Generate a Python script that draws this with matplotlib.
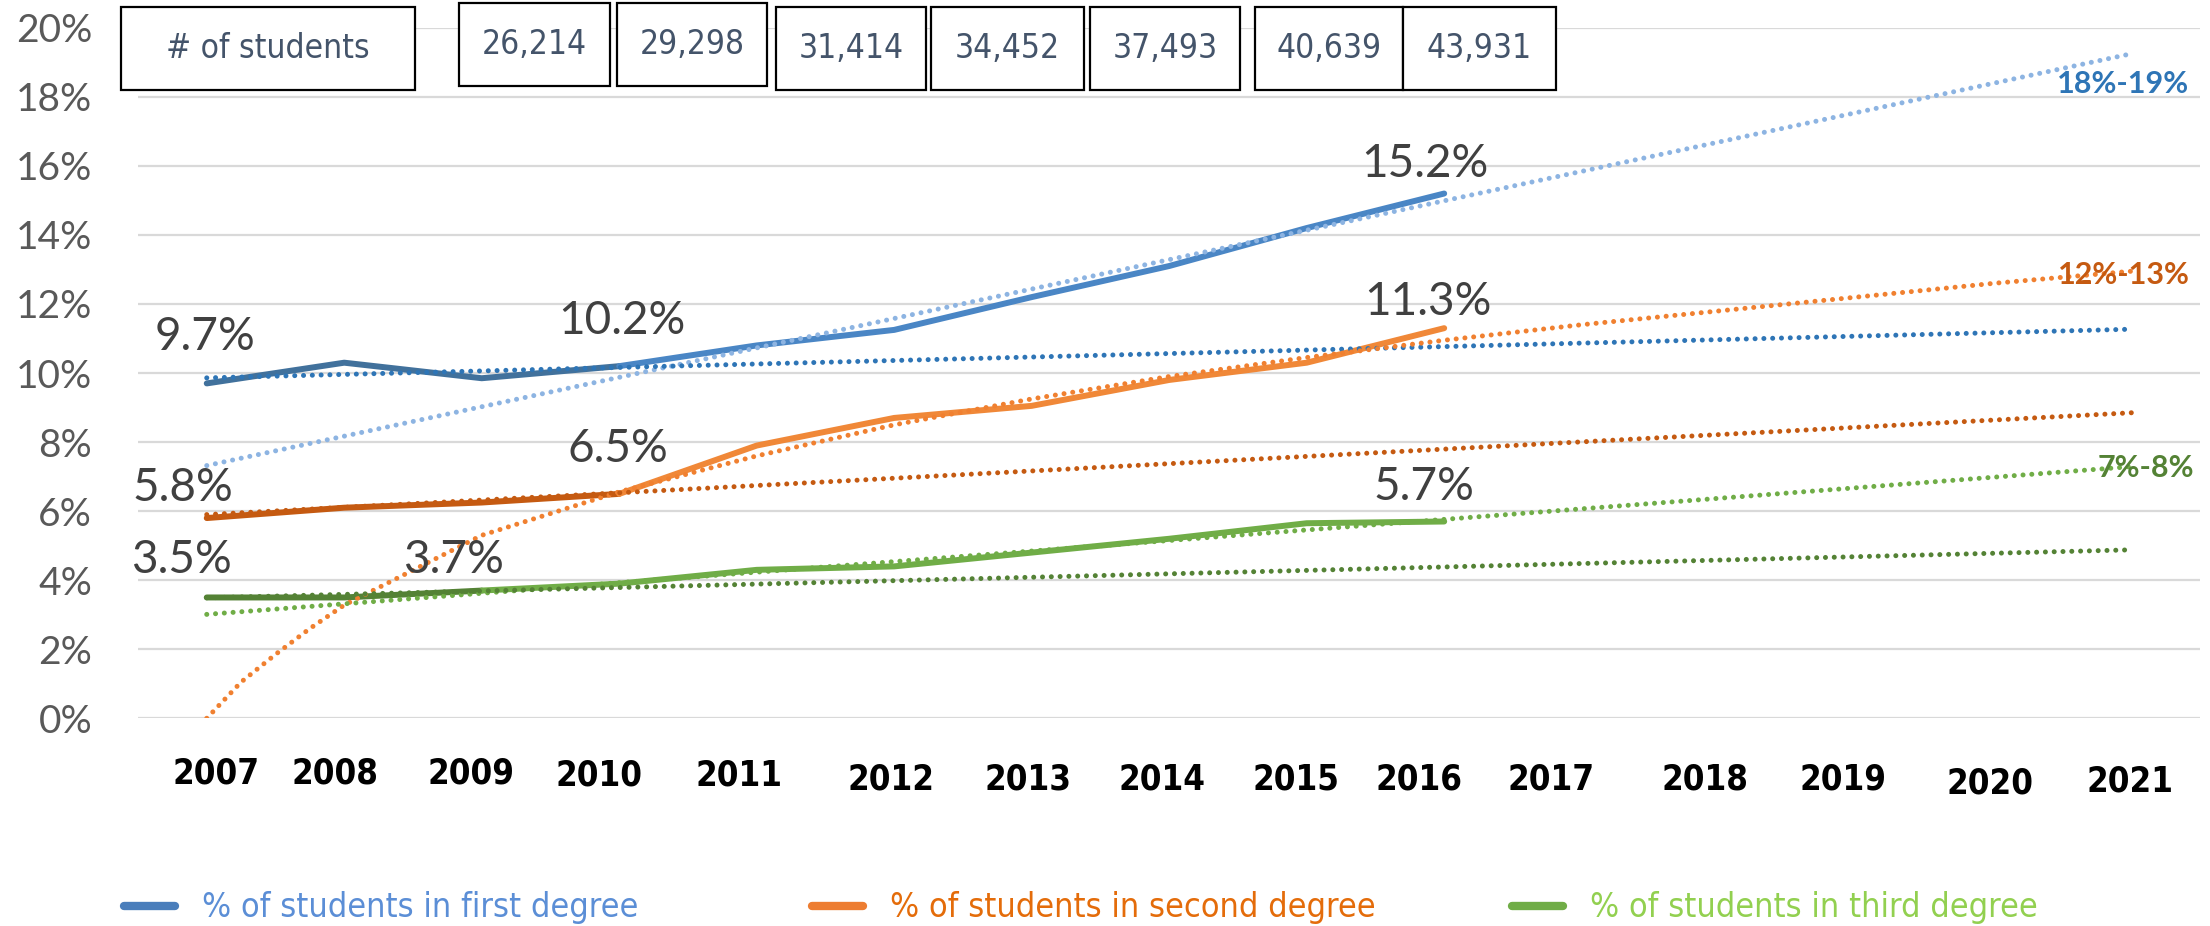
import matplotlib
matplotlib.use("Agg")
import matplotlib.pyplot as plt
from matplotlib.patches import Rectangle
from matplotlib.lines import Line2D
from matplotlib.transforms import blended_transform_factory

# share of students (%) per degree, 2007-2016
years = [2007, 2008, 2009, 2010, 2011, 2012, 2013, 2014, 2015, 2016]
first_degree = [9.7, 10.3, 9.85, 10.2, 10.8, 11.25, 12.2, 13.1, 14.2, 15.2]
second_degree = [5.8, 6.1, 6.25, 6.5, 7.9, 8.7, 9.05, 9.8, 10.3, 11.3]
third_degree = [3.5, 3.5, 3.7, 3.9, 4.3, 4.4, 4.8, 5.2, 5.65, 5.7]

# straight trend lines, value at 2007 and at 2021
trend_years = [2007, 2021]
first_trend_steep = [7.32, 19.25]
first_trend_flat = [9.86, 11.27]
second_trend_flat = [5.9, 8.85]
third_trend_steep = [3.01, 7.29]
third_trend_flat = [3.49, 4.88]

# curved trend for second degree
second_curve_years = [2007, 2007.25, 2007.5, 2007.75, 2008, 2009, 2010, 2011,
                      2012, 2013, 2014, 2015, 2016, 2017, 2018, 2019, 2020, 2021]
second_curve = [0.0, 1.05, 1.85, 2.6, 3.28, 5.3, 6.56, 7.6, 8.5, 9.25, 9.9,
                10.45, 10.95, 11.4, 11.8, 12.2, 12.6, 12.95]

axis_years = list(range(2007, 2022))
student_counts = [26214, 29298, 31414, 34452, 37493, 40639, 43931]

projection_labels = ["18%-19%", "12%-13%", "7%-8%"]
projection_values = [18.37, 12.84, 7.25]

# --- layout helpers (pixel positions of the hand-placed items) ---
W, H = 2210, 926
CAL = "Lato"
TAH = "DejaVu Sans"
STRETCH = "condensed"

# year labels sit slightly off the category centres in the original
year_label_x = [2007.07, 2007.93, 2008.92, 2009.85, 2010.87, 2011.98, 2012.97,
                2013.95, 2014.92, 2015.82, 2016.78, 2017.9, 2018.9, 2019.97, 2020.99]
year_label_ypx = [774, 774, 774, 776, 776, 780, 780, 780, 780, 780, 780, 780,
                  780, 783, 781]

# boxes: (left, right, top, bottom) in pixels
header_box = (121, 415, 7, 90)
count_boxes = [(459, 610, 3, 86), (617, 767, 3, 86), (776, 926, 7, 90),
               (931, 1084, 7, 90), (1090, 1240, 7, 90), (1255, 1403, 7, 90),
               (1403, 1556, 7, 90)]

fig = plt.figure(figsize=(W / 100, H / 100), dpi=100)
ax_left, ax_right = 138, 2200.4
ax_top, ax_bottom = 27.8, 718.3
ax = fig.add_axes([ax_left / W, 1 - ax_bottom / H,
                   (ax_right - ax_left) / W, (ax_bottom - ax_top) / H])

ax.set_xlim(2006.5, 2021.5)
ax.set_ylim(0, 20)
ax.set_yticks(range(0, 21, 2))
ax.set_yticklabels([f"{v}%" for v in range(0, 21, 2)], fontfamily=CAL,
                   fontsize=28, color="#595959")
ax.tick_params(axis="y", length=0, pad=33)
ax.set_xticks([])
ax.grid(axis="y", color="#D9D9D9", lw=1.6)
ax.set_axisbelow(True)
for s in ax.spines.values():
    s.set_visible(False)

# solid series, darker first segments
solid = dict(lw=4.3, solid_capstyle="round", solid_joinstyle="round", zorder=3)
ax.plot(years[:4], first_degree[:4], color="#41719C", **solid)
ax.plot(years[3:], first_degree[3:], color="#4A86C5", **solid)
ax.plot(years[:4], second_degree[:4], color="#C55A11", **solid)
ax.plot(years[3:], second_degree[3:], color="#F08838", **solid)
ax.plot(years[:3], third_degree[:3], color="#548235", **solid)
ax.plot(years[2:], third_degree[2:], color="#70AD47", **solid)

# dotted trend lines
dots = dict(lw=3.6, linestyle=(0, (0.01, 1.75)), dash_capstyle="round", zorder=4)
ax.plot(trend_years, first_trend_steep, color="#8DB4E2", **dots)
ax.plot(trend_years, first_trend_flat, color="#2E75B6", **dots)
ax.plot(second_curve_years, second_curve, color="#F08030", **dots)
ax.plot(trend_years, second_trend_flat, color="#C55A11", **dots)
ax.plot(trend_years, third_trend_steep, color="#70AD47", **dots)
ax.plot(trend_years, third_trend_flat, color="#548235", **dots)

# data labels (offsets in pixels)
label_spots = [
    (first_degree, 0, (-2, 46)), (first_degree, 3, (3, 45)), (first_degree, 9, (-19, 30)),
    (second_degree, 0, (-24, 30)), (second_degree, 3, (-1, 45)), (second_degree, 9, (-16, 26)),
    (third_degree, 0, (-25, 37)), (third_degree, 2, (-28, 31)), (third_degree, 9, (-20, 35)),
]
for series, i, off in label_spots:
    ax.annotate(f"{series[i]:.1f}%", (years[i], series[i]), xytext=off,
                textcoords="offset pixels", ha="center", va="center",
                fontfamily=CAL, fontsize=33, color="#404040", zorder=6)

# projection ranges at the right
proj_colors = ["#2E75B6", "#C55A11", "#548235"]
proj_x = [2020.94, 2020.94, 2021.1]
for lab, v, c, x in zip(projection_labels, projection_values, proj_colors, proj_x):
    ax.text(x, v, lab, ha="center", va="center", fontfamily=CAL,
            fontweight="bold", fontsize=22, color=c, zorder=6)

# year labels
tr = blended_transform_factory(ax.transData, fig.transFigure)
for yr, x, ypx in zip(axis_years, year_label_x, year_label_ypx):
    ax.text(x, 1 - ypx / H, str(yr), transform=tr, ha="center", va="center",
            fontfamily=TAH, fontstretch=STRETCH, fontweight="bold",
            fontsize=25, color="black")


def draw_box(box, text):
    l, r, t, b = box
    fig.add_artist(Rectangle((l / W, 1 - b / H), (r - l) / W, (b - t) / H,
                             transform=fig.transFigure, facecolor="white",
                             edgecolor="black", lw=1.6, zorder=5))
    fig.text((l + r) / 2 / W, 1 - (t + b) / 2 / H, text, ha="center",
             va="center", fontfamily=TAH, fontstretch=STRETCH, fontsize=24,
             color="#44546A", zorder=6)


draw_box(header_box, "# of students")
for box, n in zip(count_boxes, student_counts):
    draw_box(box, f"{n:,}")

# legend, three separate entries
legend_items = [
    ("% of students in first degree", "#4A7EBB", "#5B8ED6", 124),
    ("% of students in second degree", "#ED7D31", "#E46C0A", 812),
    ("% of students in third degree", "#70AD47", "#92D050", 1512),
]
for text, line_c, text_c, xpx in legend_items:
    h = Line2D([], [], color=line_c, lw=6, solid_capstyle="round")
    leg = fig.legend(handles=[h], labels=[text], loc="center left",
                     bbox_to_anchor=(xpx / W, 1 - 908 / H), frameon=False,
                     borderpad=0, borderaxespad=0, handlelength=1.5,
                     handletextpad=0.8,
                     prop=dict(family=TAH, stretch=STRETCH, size=24.5))
    for t in leg.get_texts():
        t.set_color(text_c)

fig.savefig("out.png", dpi=100, facecolor="white")
